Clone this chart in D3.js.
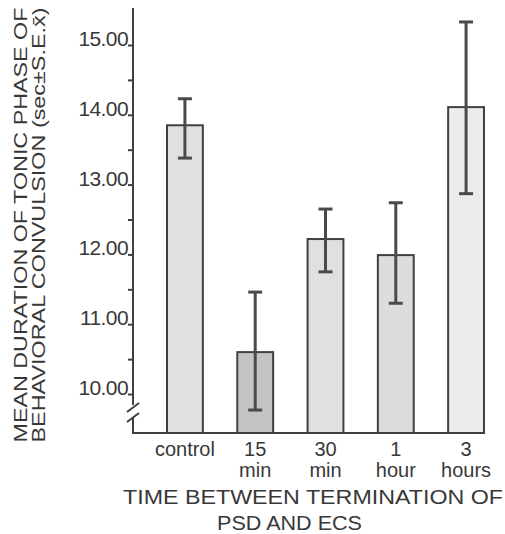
<!DOCTYPE html>
<html><head><meta charset="utf-8">
<script src="https://cdn.jsdelivr.net/npm/d3@7"></script>
<style>body{margin:0;background:#fff}svg{display:block}text{font-family:"Liberation Sans",Arial,sans-serif;fill:#383838}</style>
</head><body>
<script>
const categories = ["control", "15 min", "30 min", "1 hour", "3 hours"];
const labelLine1 = ["control", "15", "30", "1", "3"];
const labelLine2 = ["", "min", "min", "hour", "hours"];
const means = [13.85, 10.60, 12.22, 11.99, 14.11];
const errHigh = [14.23, 11.46, 12.65, 12.74, 15.33];
const errLow = [13.38, 9.77, 11.75, 11.30, 12.87];
const fills = ["#e0e0e0", "#c4c4c4", "#e0e0e0", "#dcdcdc", "#ececec"];
const majorTicks = [10, 11, 12, 13, 14, 15];
const minorTicks = [10.5, 11.5, 12.5, 13.5, 14.5];
const tickLabels = ["10.00", "11.00", "12.00", "13.00", "14.00", "15.00"];

const W = 505, H = 534;
const axisX = 133, axisTop = 8, baseY = 433;
const svg = d3.select("body").append("svg").attr("width", W).attr("height", H);

const y = d3.scaleLinear().domain([10, 15]).range([394, 45]);
const x = d3.scaleBand().domain(categories).range([167, 484]).paddingInner(0.49).paddingOuter(0);

const ink = "#404040";

// bars
svg.selectAll("rect.bar").data(categories).join("rect")
  .attr("class", "bar")
  .attr("x", d => x(d)).attr("width", x.bandwidth())
  .attr("y", (d, i) => y(means[i])).attr("height", (d, i) => baseY - y(means[i]))
  .attr("fill", (d, i) => fills[i]).attr("stroke", ink).attr("stroke-width", 2);

// error bars
const eg = svg.append("g").attr("stroke", "#4a4a4a");
categories.forEach((c, i) => {
  const cx = x(c) + x.bandwidth() / 2;
  eg.append("line").attr("x1", cx).attr("x2", cx).attr("y1", y(errHigh[i])).attr("y2", y(errLow[i])).attr("stroke-width", 3);
  [errHigh[i], errLow[i]].forEach(v => {
    eg.append("line").attr("x1", cx - 7).attr("x2", cx + 7).attr("y1", y(v)).attr("y2", y(v)).attr("stroke-width", 3);
  });
});

// y axis line with break
const ax = svg.append("g").attr("stroke", ink).attr("stroke-width", 2).attr("fill", "none");
ax.append("line").attr("x1", axisX).attr("x2", axisX).attr("y1", axisTop).attr("y2", 405);
ax.append("line").attr("x1", 127).attr("x2", 139).attr("y1", 412).attr("y2", 403);
ax.append("line").attr("x1", 127).attr("x2", 139).attr("y1", 422).attr("y2", 413);
ax.append("path").attr("d", `M${axisX},417 L${axisX},${baseY} L485,${baseY}`);

// ticks via d3 axis
const yAxis = d3.axisLeft(y).tickValues(majorTicks.concat(minorTicks)).tickSize(5).tickFormat("");
const yg = svg.append("g").attr("transform", `translate(${axisX},0)`).call(yAxis);
yg.select(".domain").remove();
yg.selectAll(".tick line").attr("stroke", ink).attr("stroke-width", 2);

svg.selectAll("text.ytl").data(majorTicks).join("text")
  .attr("class", "ytl").attr("x", 128).attr("y", d => y(d) + 1)
  .attr("text-anchor", "end").attr("font-size", 21).attr("letter-spacing", -0.6)
  .text((d, i) => tickLabels[i]);

// x labels
categories.forEach((c, i) => {
  const cx = x(c) + x.bandwidth() / 2;
  svg.append("text").attr("x", cx).attr("y", 456).attr("text-anchor", "middle").attr("font-size", 20).text(labelLine1[i]);
  if (labelLine2[i]) svg.append("text").attr("x", cx).attr("y", 477).attr("text-anchor", "middle").attr("font-size", 20).text(labelLine2[i]);
});

// x title
svg.append("text").attr("x", 123).attr("y", 504).attr("font-size", 20)
  .attr("textLength", 380).attr("lengthAdjust", "spacingAndGlyphs").text("TIME BETWEEN TERMINATION OF");
svg.append("text").attr("x", 217).attr("y", 530).attr("font-size", 20)
  .attr("textLength", 145).attr("lengthAdjust", "spacingAndGlyphs").text("PSD AND ECS");

// y title
const yt = svg.append("g").attr("transform", "translate(0,225)");
yt.append("text").attr("transform", "translate(27,0) rotate(-90)").attr("text-anchor", "middle").attr("font-size", 18)
  .attr("textLength", 435).attr("lengthAdjust", "spacingAndGlyphs").text("MEAN DURATION OF TONIC PHASE OF");
yt.append("text").attr("transform", "translate(45,0) rotate(-90)").attr("text-anchor", "middle").attr("font-size", 18)
  .attr("textLength", 435).attr("lengthAdjust", "spacingAndGlyphs").text("BEHAVIORAL CONVULSION (sec±S.E.x\u0304)");
</script>
</body></html>
